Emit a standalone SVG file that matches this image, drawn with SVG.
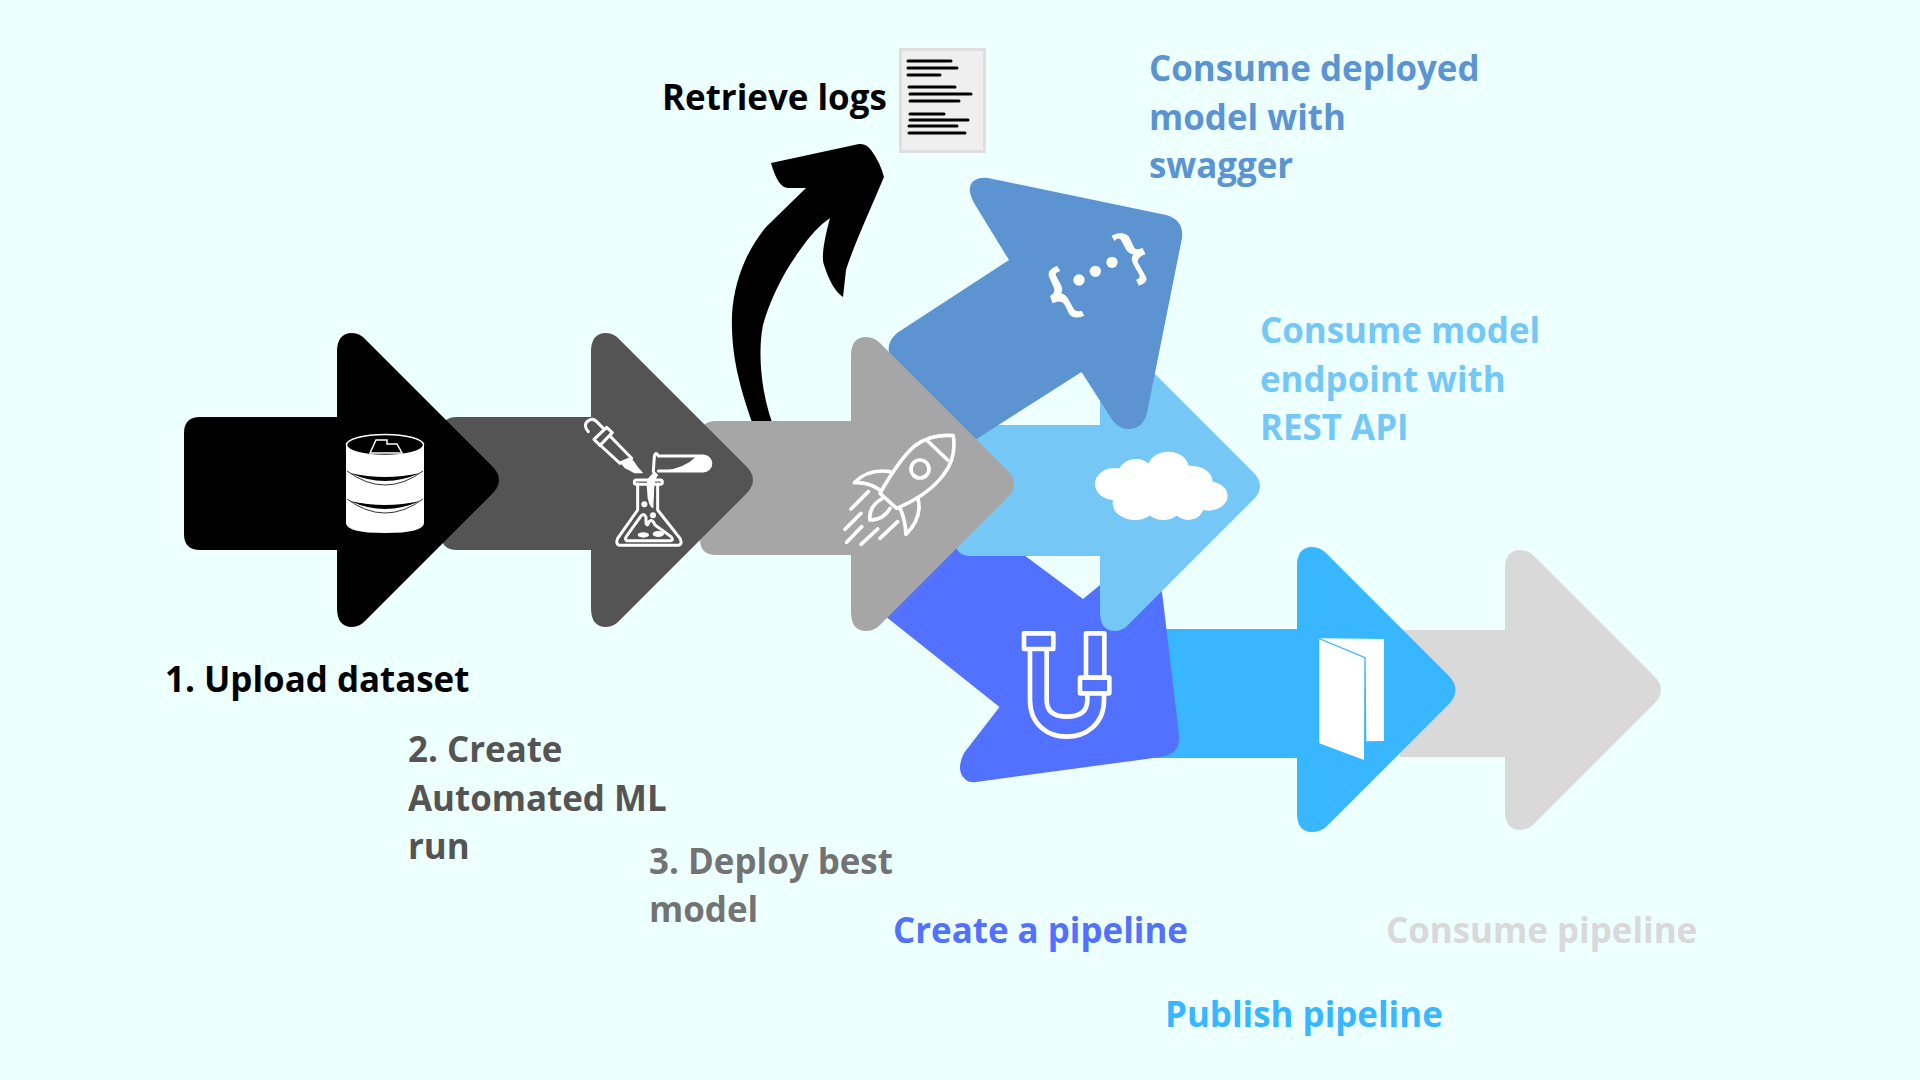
<svg xmlns="http://www.w3.org/2000/svg" width="1920" height="1080" viewBox="0 0 1920 1080">
<style>
.t{font-family:"Open Sans","Noto Sans","Liberation Sans",sans-serif;font-weight:700;font-size:34.9px}
.i{fill:none;stroke:#fff;stroke-linecap:round;stroke-linejoin:round}
.w{fill:#fff}
</style>
<rect width="1920" height="1080" fill="#eeffff"/>
<g id="connectors"></g>
<g id="consume-pipeline">
<path fill="#d9d9d9" d="M1400,630 H1505 V569 Q1505,550 1520,550 Q1528,550 1534,556 L1653,675 Q1669,690 1653,705 L1534,824 Q1528,830 1520,830 Q1505,830 1505,811 V757 H1400 Z"/>
<text class="t" x="1386" y="943" fill="#d9d9d9">Consume pipeline</text>
</g>
<g id="publish-pipeline">
<path fill="#38b6ff" d="M1150,629 H1297 V566 Q1297,547 1312,547 Q1320,547 1326,553 L1448,675 Q1463,690 1448,705 L1326,827 Q1320,832 1312,832 Q1297,832 1297,813 V758 H1150 Z"/>
<g transform="translate(1310,630) scale(.3333)"><path class="w" d="M30,25 L222,27 V333 L169,334 L167,82 Z"/><path class="w" d="M28,28 L163,84 L162,390 L28,340 Z"/></g>
<text class="t" x="1165" y="1027" fill="#38b6ff">Publish pipeline</text>
</g>
<g id="create-pipeline">
<path fill="#5271ff" d="M870,604 L999.500,707 L964,753 Q955,772 966,780 Q970,783 976,782 L1161,757 Q1181,754 1179,735 L1163,600 L1155,540 L1083,599 L1020,552 L950,540 Z"/>
<g transform="translate(1010,625) scale(.3333)">
<g class="i" stroke-width="14"><rect x="42" y="25" width="88" height="47"/><rect x="228" y="25" width="55" height="133"/><rect x="210" y="158" width="88" height="47"/>
<path d="M60,75 V225 C60,300 115,335 170,335 C225,335 282,300 282,225 V205"/><path d="M110,75 V225 Q110,275 170,275 Q232,275 232,225 V205"/></g></g>
<text class="t" x="893" y="943" fill="#5271ff">Create a pipeline</text>
</g>
<g id="consume-endpoint">
<path fill="#75c8f5" d="M971,425 H1100 V360 Q1100,341 1115,341 Q1123,341 1129,348 L1252,471 Q1268,486 1252,501 L1129,624 Q1123,631 1115,631 Q1100,631 1100,612 V556 H971 Q955,556 955,540 V441 Q955,425 971,425 Z"/>
<g class="w" transform="translate(840,360) scale(.3333)">
<ellipse cx="822" cy="372" rx="57" ry="48"/><ellipse cx="888" cy="345" rx="55" ry="48"/><ellipse cx="985" cy="325" rx="62" ry="50"/><ellipse cx="1050" cy="365" rx="68" ry="48"/><ellipse cx="1105" cy="408" rx="58" ry="44"/><ellipse cx="885" cy="430" rx="67" ry="50"/><ellipse cx="970" cy="430" rx="60" ry="50"/><ellipse cx="1045" cy="435" rx="48" ry="45"/><ellipse cx="960" cy="380" rx="150" ry="60"/></g>
<text class="t" x="1260" y="343" fill="#75c8f5">Consume model</text>
<text class="t" x="1260" y="392" fill="#75c8f5">endpoint with</text>
<text class="t" x="1260" y="440" fill="#75c8f5">REST API</text>
</g>
<g id="consume-swagger">
<path fill="#5b94d0" d="M889,352 Q887,342 897,333 L1009,260 L974,203 Q965,186 975,180 Q980,177 988,178 L1166,215 Q1184,220 1182,238 L1147,413 Q1143,428 1130,429 Q1120,430 1113,421 L1081.500,372 L925,472 Z"/>
<g transform="translate(1035,225) scale(.3333)">
<path class="w" d="M66,122 Q35,135 42,155 L58,192 Q60,205 45,213 L53,235 Q78,222 88,238 L103,268 Q118,285 148,272 L140,257 Q122,263 115,250 L100,222 Q92,208 78,205 Q85,195 78,180 L62,150 Q60,143 76,138 Z"/>
<path class="w" d="M230,32 Q262,15 282,35 L298,68 Q305,78 322,68 L332,88 Q308,95 308,112 L330,150 Q345,170 312,182 L303,165 Q318,158 313,150 L295,118 Q285,100 295,88 Q282,88 272,72 L258,45 Q250,35 238,48 Z"/>
<circle class="w" cx="132" cy="165" r="17"/><circle class="w" cx="181" cy="139" r="17"/><circle class="w" cx="231" cy="112" r="17"/></g>
<text class="t" x="1149" y="81" fill="#5b94d0">Consume deployed</text>
<text class="t" x="1149" y="130" fill="#5b94d0">model with</text>
<text class="t" x="1149" y="178" fill="#5b94d0">swagger</text>
</g>
<g id="retrieve-logs">
<path fill="#000" d="M753,425 C737,380 731,350 732,315 C734,280 747,250 766,227 L806,188 H788 Q778,188 771,163 L859,144 Q866,143 871,150 Q880,162 884,177 C870,210 852,250 846,270 L843,297 Q832,290 824,265 Q820,255 830,218 Q815,228 800,250 C783,273 770,300 763,325 C758,350 760,390 773,425 Z"/>
<rect x="900.500" y="49.500" width="84" height="102" fill="#efefef" stroke="#dedede" stroke-width="3"/>
<path fill="none" stroke="#000" stroke-width="3" stroke-linecap="round" d="M908,61H951M908,68H957M908,75H940M909,87H955M910,94H971M910,101H959M910,114H944M910,120H968M909,126H957M909,133H965"/>
<text class="t" x="662" y="110" fill="#000">Retrieve logs</text>
</g>
<g id="deploy">
<path fill="#a6a6a6" d="M716,421 H851 V356 Q851,337 866,337 Q874,337 880,343 L1006,469 Q1022,484 1006,499 L880,625 Q874,631 866,631 Q851,631 851,612 V555 H716 Q700,555 700,539 V437 Q700,421 716,421 Z"/>
<g transform="translate(835,425) scale(.3333)"><g class="i" stroke-width="11">
<path d="M355,32 Q290,25 240,62 Q195,100 135,205 L185,250 Q280,210 325,150 Q365,100 355,32 Z"/><path d="M278,48 L338,105"/><circle cx="255" cy="132" r="27"/>
<path d="M165,140 Q100,130 58,173 Q100,170 135,195"/><path d="M248,218 Q265,275 213,328 Q210,280 195,250"/><path d="M140,222 Q100,245 105,285 Q145,285 165,250"/>
<path d="M100,200 L48,252M78,265 L30,313M80,305 L35,352M128,312 L78,358M188,290 L135,340"/></g></g>
<text class="t" x="649" y="874" fill="#737373">3. Deploy best</text>
<text class="t" x="649" y="922" fill="#737373">model</text>
</g>
<g id="automl">
<path fill="#545454" d="M457,417 H591 V352 Q591,333 606,333 Q614,333 620,340 L745,465 Q761,480 745,495 L620,620 Q614,627 606,627 Q591,627 591,608 V550 H457 Q441,550 441,534 V433 Q441,417 457,417 Z"/>
<g transform="translate(575,410) scale(.3333)">
<g class="i" stroke-width="9">
<path d="M40,65 Q22,45 40,32 Q55,22 68,38 L88,58"/><path d="M57,88 L95,52 L112,68 L75,106 Z"/><path d="M75,105 L135,160M105,78 L170,145"/>
<path d="M188,222 V300 L128,385 Q120,406 138,406 H305 Q325,406 315,385 L248,300 V222"/><rect x="178" y="210" width="84" height="13" rx="6"/>
<path d="M155,392 Q148,388 155,378 L195,322 Q205,305 213,322 V340 Q218,350 222,335 Q232,325 240,345 L288,380 Q298,392 285,392 Z"/>
<path d="M235,185 L238,140 Q242,122 250,138 H385 A22,22 0 0 1 385,183 H250"/></g>
<path class="w" d="M132,155 L165,142 L178,155 L188,170 L205,190 L178,190 L165,182 L150,175 Z"/>
<ellipse class="w" cx="205" cy="375" rx="17" ry="8"/><ellipse class="w" cx="250" cy="372" rx="17" ry="9"/><circle class="w" cx="208" cy="283" r="9"/><circle class="w" cx="234" cy="316" r="9"/>
<path class="w" d="M240,185 Q215,200 215,225 L218,265 Q225,295 235,295 L238,230 Q240,205 250,195 Z"/>
<path class="w" d="M265,182 Q330,175 365,138 H385 A22,22 0 0 1 385,183 Z"/>
</g>
<text class="t" x="408" y="762" fill="#545454">2. Create</text>
<text class="t" x="408" y="811" fill="#545454">Automated ML</text>
<text class="t" x="408" y="859" fill="#545454">run</text>
</g>
<g id="upload">
<path fill="#000" d="M200,417 H337 V352 Q337,333 352,333 Q360,333 366,340 L491,465 Q507,480 491,495 L366,620 Q360,627 352,627 Q337,627 337,608 V550 H200 Q184,550 184,534 V433 Q184,417 200,417 Z"/>
<path class="w" d="M346,445 H424 V523 Q424,533 385,533 Q346,533 346,523 Z"/>
<path d="M350,473 Q385,481 420,473 Q385,489 350,473 Z M350,501 Q385,509 420,501 Q385,517 350,501 Z" fill="#000"/>
<path d="M347,471 Q385,499 423,471 M347,499 Q385,527 423,499" fill="none" stroke="#000" stroke-width=".8"/>
<ellipse cx="385" cy="445" rx="38.500" ry="10.500" fill="#000" stroke="#fff" stroke-width="1.500"/>
<path d="M370,453 L376,440 H387 V444 H397 L402,453 Z" fill="none" stroke="#fff" stroke-width="1.500"/>
<text class="t" x="165" y="692" fill="#000">1. Upload dataset</text>
</g>
</svg>
